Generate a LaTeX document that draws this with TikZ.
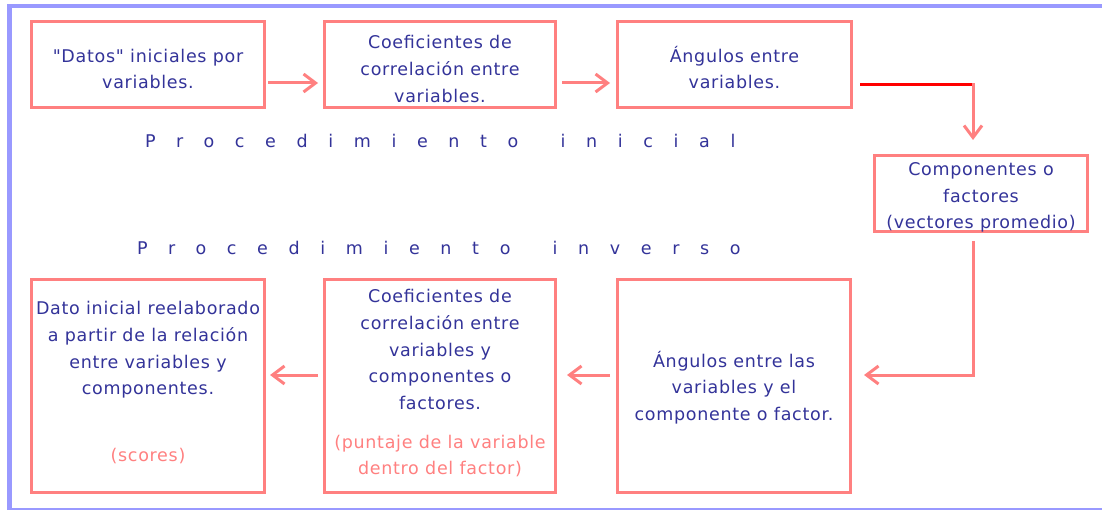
\documentclass[tikz,border=0pt]{standalone}
\usepackage{fontspec}
\setmainfont{DejaVu Sans}[LetterSpace=4, Ligatures=TeXOff]
\newfontfamily\spacedfont{DejaVu Sans}[LetterSpace=118]
\usetikzlibrary{arrows.meta}
\definecolor{frameblue}{HTML}{9999FF}
\definecolor{salmon}{HTML}{FF8080}
\definecolor{txtblue}{HTML}{333399}
\definecolor{pureRed}{HTML}{FF0000}
\newcommand{\bfnt}{\fontsize{17.5}{26.7}\selectfont}
\begin{document}
\begin{tikzpicture}[x=1pt,y=-1pt,
  box/.style 2 args={draw=salmon, line width=3pt, minimum width=#1, minimum height=#2,
    inner sep=0pt},
  txt/.style={inner sep=0pt, text=txtblue, align=center, font=\bfnt},
  spaced/.style={inner sep=0pt, text=txtblue, font=\spacedfont\fontsize{17.5}{20}\selectfont},
  arr/.style={draw=salmon, line width=3pt, -{Straight Barb[length=12pt,width=18pt]}},
  redline/.style={draw=pureRed, line width=3pt}]
\useasboundingbox (0,0) rectangle (1102,510);
% frame
\fill[frameblue] (8,4) rectangle (1102,8);
\fill[frameblue] (7,4) rectangle (12,509.5);
\fill[frameblue] (7,508) rectangle (1102,509.5);
% top row boxes
\node[box={233pt}{86pt}] (b1) at (148,65) {};
\node[box={231pt}{86pt}] (b2) at (440,65) {};
\node[box={234pt}{86pt}] (b3) at (734.5,65) {};
\node[box={213pt}{76pt}] (b4) at (981,193.5) {};
\node[txt] (t1) at (148,69) {"Datos" iniciales por\\variables.};
\node[txt] (t2) at (440,69) {Coeficientes de\\correlación entre\\variables.};
\node[txt] (t3) at (734.5,67.5) {Ángulos entre\\variables.};
\node[txt] (t4) at (981,197.5) {Componentes o\\factores\\(vectores promedio)};
% labels
\node[spaced, anchor=base west] (pi) at (145,148) {Procedimiento\hspace{16pt} inicial};
\node[spaced, anchor=base west] (pv) at (137,255) {Procedimiento\hspace{16pt} inverso};
% bottom row boxes
\node[box={233pt}{213pt}] (bA) at (148,386) {};
\node[box={231pt}{213pt}] (bB) at (440,386) {};
\node[box={233pt}{213pt}] (bC) at (734,386) {};
\node[txt] (tA) at (148,350) {Dato inicial reelaborado\\a partir de la relación\\entre variables y\\componentes.};
\node[txt, text=salmon] (sA) at (148,456) {(scores)};
\node[txt] (tB) at (440,349.5) {Coeficientes de\\correlación entre\\variables y\\componentes o\\factores.};
\node[txt, text=salmon] (sB) at (440,456) {(puntaje de la variable\\dentro del factor)};
\node[txt] (tC) at (734,387.5) {Ángulos entre las\\variables y el\\componente o factor.};
% connectors
\draw[arr, shorten <=2pt, shorten >=5pt] (b1.east |- 0,83) -- (b2.west |- 0,83);
\draw[arr, shorten <=5pt, shorten >=6pt] (b2.east |- 0,83) -- (b3.west |- 0,83);
\coordinate (k1) at (973,85);
\draw[redline, shorten <=7pt] (b3.east |- k1) -- (k1);
\draw[arr, shorten >=14pt] ([yshift=1.5pt]k1) -- (k1 |- b4.north);
\coordinate (k2) at (973,375);
\draw[arr, shorten <=8pt, shorten >=12pt] (k2 |- b4.south) -- (k2) -- (bC.east |- k2);
\draw[arr, shorten <=6pt, shorten >=10pt] (bC.west |- k2) -- (bB.east |- k2);
\draw[arr, shorten <=5pt, shorten >=4pt] (bB.west |- k2) -- (bA.east |- k2);
\end{tikzpicture}
\end{document}
